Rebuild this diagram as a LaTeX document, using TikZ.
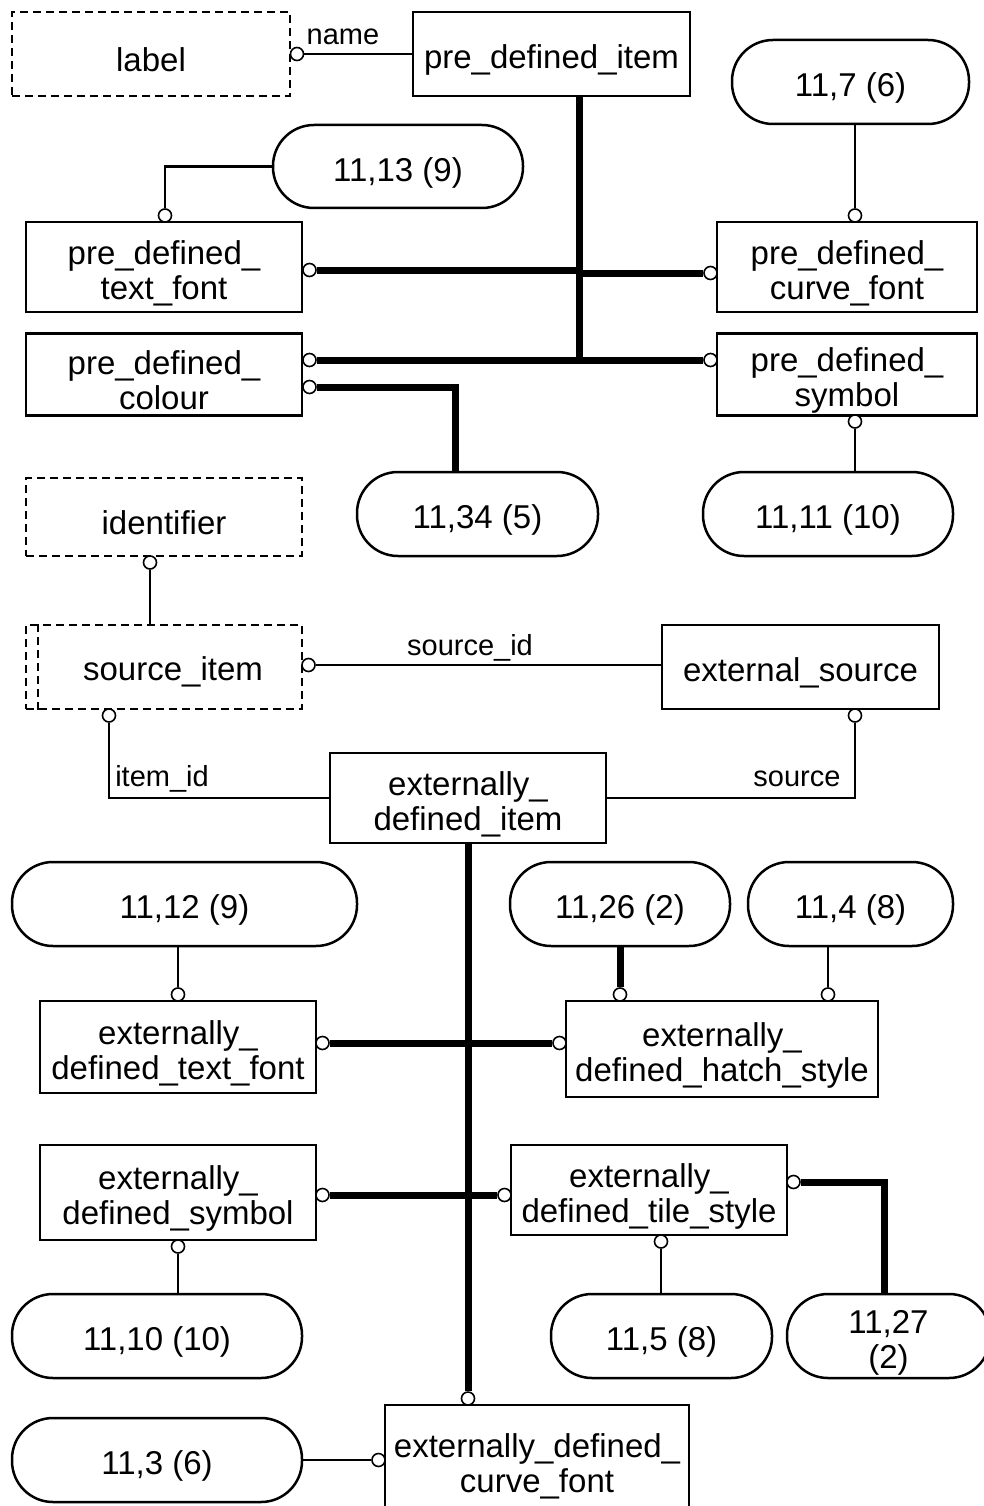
\documentclass[tikz,border=0pt]{standalone}
\usepackage{fontspec}
\setmainfont{Liberation Sans}
% strut that sets the text a little low in its box
\newcommand{\lowstrut}{\rule{0pt}{36pt}}
\begin{document}
\begin{tikzpicture}[x=1pt,y=-1pt,
  every node/.style={font=\fontsize{33}{35}\selectfont},
  ent/.style={draw, line width=2.5pt, inner sep=0pt, align=center,
    execute at begin node={\lowstrut}},
  sel/.style={ent, rounded corners=41pt},
  dashbox/.style={ent, dash pattern=on 8pt off 5pt},
  dashln/.style={line width=2.5pt, dash pattern=on 8pt off 5pt},
  circ/.style={circle, draw, fill=white, line width=1.6pt, inner sep=0pt, minimum size=13pt},
  conn/.style={line width=2.5pt},
  rel/.style={line width=7pt},
  lab/.style={font=\fontsize{29}{31}\selectfont, inner sep=0pt}]

\path[use as bounding box, fill=white] (0,0) rectangle (983,1506);

% ---- pre-defined items ----
\node[dashbox, minimum width=278pt, minimum height=84pt] (lbl) at (151,54) {label};
\node[ent, minimum width=277pt, minimum height=84pt] (pdi) at (551.5,54) {pre\_defined\_item};
\node[sel, minimum width=237pt, minimum height=84pt] (s117) at (850.5,82) {11,7 (6)};
\node[sel, minimum width=250pt, minimum height=83pt] (s1113) at (398,166.5) {11,13 (9)};
\node[ent, minimum width=276pt, minimum height=90pt] (pdtf) at (164,267) {\lowstrut pre\_defined\_\\text\_font};
\node[ent, minimum width=260pt, minimum height=90pt] (pdcf) at (847,267) {\lowstrut pre\_defined\_\\curve\_font};
\node[ent, minimum width=276pt, minimum height=82pt] (pdc) at (164,374.5) {\lowstrut pre\_defined\_\\colour};
\node[ent, minimum width=260pt, minimum height=82pt] (pds) at (847,374.5) {\lowstrut pre\_defined\_\\symbol};
\node[sel, minimum width=241pt, minimum height=84pt] (s1134) at (477.5,514) {11,34 (5)};
\node[sel, minimum width=250pt, minimum height=84pt] (s1111) at (828,514) {11,11 (10)};

% ---- sources ----
\node[dashbox, minimum width=276pt, minimum height=78pt] (idf) at (164,517) {identifier};
\node[dashbox, minimum width=276pt, minimum height=84pt] (si) at (164,667) {};
\draw[dashln] ([xshift=13pt]si.north west) -- ([xshift=13pt]si.south west);
\node (sit) at (173,672) {source\_item};
\node[ent, minimum width=277pt, minimum height=84pt] (es) at (800.5,667) {external\_source};
\node[ent, minimum width=276pt, minimum height=90pt] (edi) at (468,798) {\lowstrut externally\_\\defined\_item};

% ---- externally defined items ----
\node[sel, minimum width=345pt, minimum height=84pt] (s1112) at (184.5,904) {11,12 (9)};
\node[sel, minimum width=220pt, minimum height=84pt] (s1126) at (620,904) {11,26 (2)};
\node[sel, minimum width=205pt, minimum height=84pt] (s114) at (850.5,904) {11,4 (8)};
\node[ent, minimum width=276pt, minimum height=92pt] (edtf) at (178,1047) {\lowstrut externally\_\\defined\_text\_font};
\node[ent, minimum width=312pt, minimum height=96pt] (edhs) at (722,1049) {\lowstrut externally\_\\defined\_hatch\_style};
\node[ent, minimum width=276pt, minimum height=95pt] (edsy) at (178,1192.5) {\lowstrut externally\_\\defined\_symbol};
\node[ent, minimum width=276pt, minimum height=90pt] (edts) at (649,1190) {\lowstrut externally\_\\defined\_tile\_style};
\node[sel, minimum width=290pt, minimum height=84pt] (s1110) at (157,1336) {11,10 (10)};
\node[sel, minimum width=221pt, minimum height=84pt] (s115) at (661.5,1336) {11,5 (8)};
\node[sel, minimum width=203pt, minimum height=84pt] (s1127) at (888.5,1336) {\lowstrut 11,27\\(2)};
\node[sel, minimum width=290pt, minimum height=84pt] (s113) at (157,1460) {11,3 (6)};
\node[ent, minimum width=304pt, minimum height=110pt] (edcf) at (537,1460) {\lowstrut externally\_defined\_\\curve\_font};

% ---- relationship end circles ----
\node[circ] (c1) at (297,54) {};
\node[circ] (c2) at (855,215.5) {};
\node[circ] (c3) at (165,215.5) {};
\node[circ] (c4) at (309.5,270) {};
\node[circ] (c5) at (710.5,273) {};
\node[circ] (c6) at (309.5,360) {};
\node[circ] (c7) at (309.5,387) {};
\node[circ] (c8) at (710.5,360) {};
\node[circ] (c9) at (855,421.5) {};
\node[circ] (c10) at (150,562.5) {};
\node[circ] (c11) at (308.5,665) {};
\node[circ] (c12) at (109,715.5) {};
\node[circ] (c13) at (855,715.5) {};
\node[circ] (c14) at (178,994.5) {};
\node[circ] (c15) at (620,994.5) {};
\node[circ] (c16) at (828,994.5) {};
\node[circ] (c17) at (322.5,1043) {};
\node[circ] (c18) at (559.5,1043) {};
\node[circ] (c19) at (322.5,1195) {};
\node[circ] (c20) at (504.5,1195) {};
\node[circ] (c21) at (793.5,1182) {};
\node[circ] (c22) at (661,1241.5) {};
\node[circ] (c23) at (178,1246.5) {};
\node[circ] (c24) at (468,1398.5) {};
\node[circ] (c25) at (378.5,1460) {};

% ---- attribute connectors ----
\draw[conn] (c1) -- (c1 -| pdi.west);
\draw[conn] (c2 |- s117.south) -- (c2);
\draw[conn] (c3) |- (s1113.west);
\draw[conn] (c9) -- (c9 |- s1111.north);
\draw[conn] (c10) -- (c10 |- si.north);
\draw[conn] (c11) -- (c11 -| es.west);
\draw[conn] (c12) |- (edi.west);
\draw[conn] (c13) |- (edi.east);
\draw[conn] (c14) -- (c14 |- s1112.south);
\draw[conn] (c16) -- (c16 |- s114.south);
\draw[conn] (c22) -- (c22 |- s115.north);
\draw[conn] (c23) -- (c23 |- s1110.north);
\draw[conn] (c25) -- (s113.east);

% ---- subtype trees ----
\coordinate (t1) at (579,363);
\draw[rel] (t1 |- pdi.south) -- (t1);
\draw[rel] (c4) -- (c4 -| t1);
\draw[rel] (c5) -- (c5 -| t1);
\draw[rel] (c6) -- (c8);
\draw[rel] (c7) -| ([xshift=-22.5pt]s1134.north);
\draw[rel] (edi.south) -- (c24);
\draw[rel] (c15) -- (c15 |- s1126.south);
\draw[rel] (c17) -- (c18);
\draw[rel] (c19) -- (c20);
\draw[rel] (c21) -| ([xshift=-4.5pt]s1127.north);

% ---- role labels ----
\node[lab] (nm) at (343,37) {name};
\node[lab] (sid) at (470,648) {source\_id};
\node[lab] (iid) at (162,779) {item\_id};
\node[lab] (src) at (797,779) {source};
\end{tikzpicture}
\end{document}
